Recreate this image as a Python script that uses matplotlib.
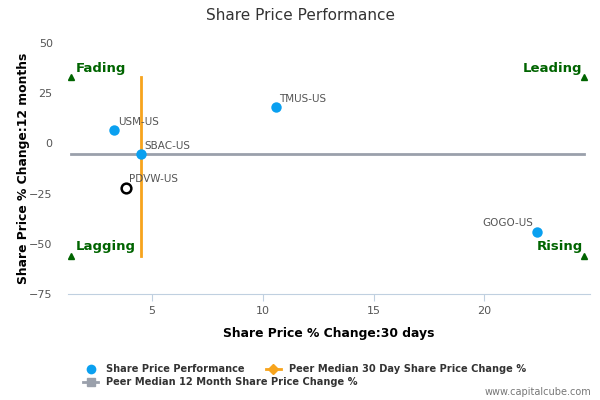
import matplotlib.pyplot as plt
from matplotlib.lines import Line2D

# data
tickers = ["USM-US", "TMUS-US", "SBAC-US", "GOGO-US"]
chg_30d = [3.3, 10.6, 4.5, 22.4]
chg_12m = [6.5, 18.0, -5.5, -44.0]

subject = "PDVW-US"
subject_30d = 3.85
subject_12m = -22.0

median_30d = 4.5
median_12m = -5.5

quad_x = [1.36, 24.5]
quad_y = [-56.0, 33.0]
quad_labels = {"Fading": (0, 1), "Leading": (1, 1), "Lagging": (0, 0), "Rising": (1, 0)}

x_ticks = [5, 10, 15, 20]
y_ticks = [-75, -50, -25, 0, 25, 50]

BLUE = "#0aa0f0"
ORANGE = "#f7a41d"
GRAY = "#9aa0ab"
GREEN = "#006400"
TXT = "#555555"


def main():
    fig = plt.figure(figsize=(6, 4), dpi=100)
    ax = fig.add_axes([0.1133, 0.265, 0.87, 0.6275])

    # median lines
    ax.plot(quad_x, [median_12m, median_12m], color=GRAY, lw=2, zorder=2)
    ax.plot([median_30d, median_30d], quad_y, color=ORANGE, lw=2, zorder=2)

    # peers
    ax.plot(chg_30d, chg_12m, "o", color=BLUE, ms=7.5, mec="none", zorder=3)
    for name, x, y in zip(tickers, chg_30d, chg_12m):
        if name == "GOGO-US":
            ax.annotate(name, (x, y), xytext=(-3, 6.5), textcoords="offset points",
                        ha="right", va="center", fontsize=7.5, color=TXT)
        else:
            ax.annotate(name, (x, y), xytext=(2.5, 6), textcoords="offset points",
                        ha="left", va="center", fontsize=7.5, color=TXT)

    # subject company
    ax.plot([subject_30d], [subject_12m], "o", mfc="white", mec="black", mew=1.8,
            ms=7, zorder=4)
    ax.annotate(subject, (subject_30d, subject_12m), xytext=(2, 6.5),
                textcoords="offset points", ha="left", va="center",
                fontsize=7.5, color=TXT)

    # quadrant markers
    for label, (i, j) in quad_labels.items():
        x, y = quad_x[i], quad_y[j]
        ax.plot([x], [y], "^", color=GREEN, ms=5, zorder=3)
        if i == 0:
            ax.annotate(label, (x, y), xytext=(3, 6.5), textcoords="offset points",
                        ha="left", va="center", fontsize=9.5, fontweight="bold",
                        color=GREEN)
        else:
            ax.annotate(label, (x, y), xytext=(-1, 6.5), textcoords="offset points",
                        ha="right", va="center", fontsize=9.5, fontweight="bold",
                        color=GREEN)

    ax.set_xlim(1.21, 24.77)
    ax.set_ylim(-75, 50)
    ax.set_xticks(x_ticks)
    ax.set_yticks(y_ticks)
    ax.tick_params(axis="x", colors="#c0d0e0", length=5, labelcolor=TXT,
                   labelsize=8)
    ax.tick_params(axis="y", length=0, labelcolor=TXT, labelsize=8, pad=11)
    for side in ["top", "right", "left"]:
        ax.spines[side].set_visible(False)
    ax.spines["bottom"].set_color("#c0d0e0")

    ax.set_xlabel("Share Price % Change:30 days", fontsize=8.9,
                  fontweight="bold", labelpad=8)
    ax.set_ylabel("Share Price % Change:12 months", fontsize=8.9,
                  fontweight="bold", labelpad=-0.5)
    fig.text(0.5, 0.96, "Share Price Performance", ha="center", va="center",
             fontsize=11, color="#333333")

    # legend drawn by hand
    handles = [
        Line2D([0], [0], marker="o", color="none", mfc=BLUE, mec="none", ms=7),
        Line2D([0], [0], marker="D", color=ORANGE, lw=2, mfc=ORANGE, ms=5),
        Line2D([0], [0], marker="s", color=GRAY, lw=2, mfc=GRAY, ms=6),
    ]
    labels = ["Share Price Performance", "Peer Median 30 Day Share Price Change %",
              "Peer Median 12 Month Share Price Change %"]
    leg1 = fig.legend(handles[:2], labels[:2], loc="center left",
                      bbox_to_anchor=(0.123, 0.077), ncol=2, frameon=False,
                      handlelength=1.6, columnspacing=2.1,
                      prop={"weight": "bold", "size": 7.1})
    for t in leg1.get_texts():
        t.set_color("#333333")
    leg2 = fig.legend(handles[2:], labels[2:], loc="center left",
                      bbox_to_anchor=(0.123, 0.044), frameon=False,
                      handlelength=1.6, prop={"weight": "bold", "size": 7.1})
    for t in leg2.get_texts():
        t.set_color("#333333")

    fig.text(0.985, 0.02, "www.capitalcube.com", ha="right", va="center",
             fontsize=7, color="#777777")

    fig.savefig("out.png", dpi=100)


if __name__ == "__main__":
    main()
